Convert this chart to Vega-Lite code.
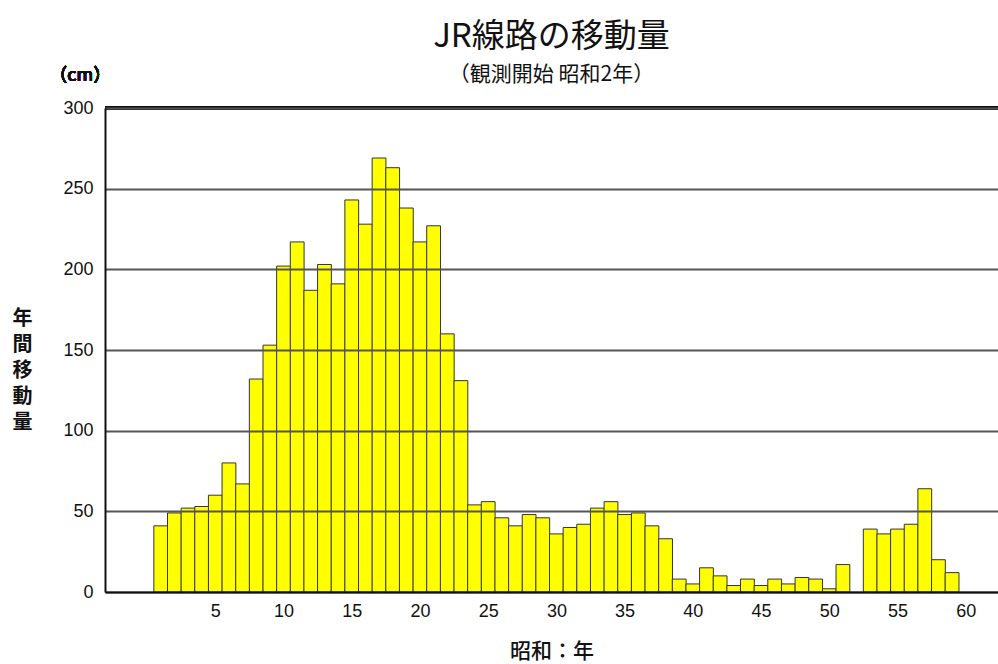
{
  "$schema": "https://vega.github.io/schema/vega-lite/v6.json",
  "autosize": {"type": "none"},
  "padding": {"left": 105, "top": 108, "right": 0, "bottom": 72},
  "width": 893,
  "height": 484,
  "background": "white",
  "config": {"view": {"stroke": null}},
  "title": {
    "text": "JR線路の移動量",
    "subtitle": "（観測開始 昭和2年）",
    "anchor": "middle",
    "frame": "group",
    "font": "Noto Sans CJK JP",
    "fontSize": 33,
    "fontWeight": 400,
    "color": "#111111",
    "subtitleFont": "Noto Sans CJK JP",
    "subtitleFontSize": 21,
    "subtitleFontWeight": 400,
    "subtitleColor": "#111111",
    "subtitlePadding": 10,
    "offset": -18
  },
  "data": {
    "values": [
      {"year": 1, "cm": 41}, {"year": 2, "cm": 49}, {"year": 3, "cm": 52}, {"year": 4, "cm": 53},
      {"year": 5, "cm": 60}, {"year": 6, "cm": 80}, {"year": 7, "cm": 67}, {"year": 8, "cm": 132},
      {"year": 9, "cm": 153}, {"year": 10, "cm": 202}, {"year": 11, "cm": 217}, {"year": 12, "cm": 187},
      {"year": 13, "cm": 203}, {"year": 14, "cm": 191}, {"year": 15, "cm": 243}, {"year": 16, "cm": 228},
      {"year": 17, "cm": 269}, {"year": 18, "cm": 263}, {"year": 19, "cm": 238}, {"year": 20, "cm": 217},
      {"year": 21, "cm": 227}, {"year": 22, "cm": 160}, {"year": 23, "cm": 131}, {"year": 24, "cm": 54},
      {"year": 25, "cm": 56}, {"year": 26, "cm": 46}, {"year": 27, "cm": 41}, {"year": 28, "cm": 48},
      {"year": 29, "cm": 46}, {"year": 30, "cm": 36}, {"year": 31, "cm": 40}, {"year": 32, "cm": 42},
      {"year": 33, "cm": 52}, {"year": 34, "cm": 56}, {"year": 35, "cm": 48}, {"year": 36, "cm": 49},
      {"year": 37, "cm": 41}, {"year": 38, "cm": 33}, {"year": 39, "cm": 8}, {"year": 40, "cm": 5},
      {"year": 41, "cm": 15}, {"year": 42, "cm": 10}, {"year": 43, "cm": 4}, {"year": 44, "cm": 8},
      {"year": 45, "cm": 4}, {"year": 46, "cm": 8}, {"year": 47, "cm": 5}, {"year": 48, "cm": 9},
      {"year": 49, "cm": 8}, {"year": 50, "cm": 2}, {"year": 51, "cm": 17},
      {"year": 53, "cm": 39}, {"year": 54, "cm": 36}, {"year": 55, "cm": 39}, {"year": 56, "cm": 42},
      {"year": 57, "cm": 64}, {"year": 58, "cm": 20}, {"year": 59, "cm": 12}
    ]
  },
  "layer": [
    {
      "mark": {"type": "bar", "width": 13.8, "fill": "#ffff00", "stroke": "#333333", "strokeWidth": 1},
      "encoding": {
        "x": {
          "field": "year",
          "type": "quantitative",
          "scale": {"domain": [-2.72, 62], "nice": false, "zero": false},
          "axis": {
            "values": [5, 10, 15, 20, 25, 30, 35, 40, 45, 50, 55, 60],
            "ticks": false,
            "grid": false,
            "labelFlush": false,
            "labelPadding": 10,
            "labelFont": "Liberation Sans",
            "labelFontSize": 18,
            "labelColor": "#111111",
            "domainColor": "#111111",
            "domainWidth": 2,
            "title": "昭和：年",
            "titleFont": "Noto Sans CJK JP",
            "titleFontSize": 21,
            "titleFontWeight": 500,
            "titleColor": "#111111",
            "titleBaseline": "top",
            "titleY": 48,
            "zindex": 1
          }
        },
        "y": {
          "field": "cm",
          "type": "quantitative",
          "scale": {"domain": [0, 300], "nice": false},
          "axis": {
            "values": [0, 50, 100, 150, 200, 250, 300],
            "ticks": false,
            "grid": true,
            "gridColor": "#555555",
            "gridWidth": 2,
            "labelPadding": 12,
            "labelFont": "Liberation Sans",
            "labelFontSize": 18,
            "labelColor": "#111111",
            "domainColor": "#111111",
            "domainWidth": 2,
            "title": ["年", "間", "移", "動", "量"],
            "titleAngle": 0,
            "titleAlign": "center",
            "titleBaseline": "top",
            "titleX": -83,
            "titleY": 200,
            "titleLineHeight": 26,
            "titleFont": "Noto Sans CJK JP",
            "titleFontSize": 20,
            "titleFontWeight": "bold",
            "titleColor": "#111111",
            "zindex": 1
          }
        }
      }
    },
    {
      "mark": {"type": "rule", "color": "#111111", "strokeWidth": 3},
      "encoding": {"y": {"datum": 300}}
    },
    {
      "mark": {"type": "text", "font": "Noto Sans CJK JP", "fontSize": 18, "fontWeight": 400, "color": "#111111", "align": "center", "baseline": "middle", "clip": false},
      "encoding": {
        "x": {"datum": -4.9},
        "y": {"datum": 320},
        "text": {"value": "（cm）"}
      }
    }
  ]
}
